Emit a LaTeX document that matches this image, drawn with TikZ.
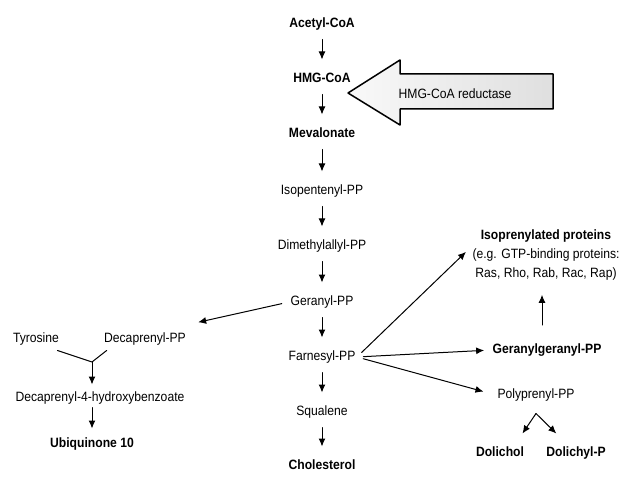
\documentclass[tikz,border=0pt]{standalone}
\usepackage{fontspec}
\setmainfont[FakeStretch=0.9]{Liberation Sans}
\usetikzlibrary{arrows.meta}
\begin{document}
\begin{tikzpicture}[line cap=round, line join=round, x=1bp, y=-1bp, line width=1bp, font=\fontsize{13.5bp}{19bp}\selectfont, >={Latex[length=8bp,width=7bp]}]
	\tikzset{met/.style={inner sep=1bp, text height=10bp, text depth=3bp},
		key met/.style={met, font=\fontsize{13.5bp}{19bp}\selectfont\bfseries},
		flow/.style={->, shorten <=7.5bp, shorten >=11.5bp},
		branch/.style={->, shorten <=6.5bp, shorten >=7bp}}
	\useasboundingbox (0,0) rectangle (623,477);
	% main pathway
	\node[key met] (acetyl) at (322,24) {Acetyl-CoA};
	\node[key met] (hmg) at (322,79) {HMG-CoA};
	\node[key met] (mev) at (322,134) {Mevalonate};
	\node[met] (ipp) at (322,191) {Isopentenyl-PP};
	\node[met] (dmapp) at (322,246) {Dimethylallyl-PP};
	\node[met] (gpp) at (322,302) {Geranyl-PP};
	\node[met] (fpp) at (322,357) {Farnesyl-PP};
	\node[met] (squal) at (322,412) {Squalene};
	\node[key met] (chol) at (322,466) {Cholesterol};
	\foreach \a/\b in {acetyl/hmg, hmg/mev, mev/ipp, ipp/dmapp, dmapp/gpp, gpp/fpp, fpp/squal, squal/chol}
		\draw[flow] (\a) -- (\b);
	% enzyme
	\draw[line width=1.5bp, left color=gray!5, right color=gray!25] (348,93) -- (400,60) -- (400,74) -- (553,74) -- (553,109) -- (400,109) -- (400,125) -- cycle;
	\node (red) at (455,94) {HMG-CoA reductase};
	% ubiquinone branch
	\node[met] (tyr) at (36,339) {Tyrosine};
	\node[met] (decap) at (145,339) {Decaprenyl-PP};
	\coordinate (join) at (92,362);
	\node[met] (dhb) at (100,398) {Decaprenyl-4-hydroxybenzoate};
	\node[key met] (ubq) at (92,444) {Ubiquinone 10};
	\draw[->, shorten <=7.5bp, shorten >=8bp] (gpp.west) -- ([shift={(3bp,7bp)}]decap.north east);
	\draw ([shift={(-3bp,-3.5bp)}]tyr.south east) -- (join) -- ([shift={(4bp,-3.5bp)}]decap.south west);
	\draw[->, shorten >=5.5bp] (join) -- (join |- dhb.north);
	\draw[->, shorten <=1.5bp, shorten >=7.5bp] (ubq.north |- dhb.south) -- (ubq.north);
	% prenylation branch
	\node[inner sep=1bp, align=center] (iso) at (546,255) {\textbf{Isoprenylated proteins}\\(e.g. GTP-binding proteins:\\Ras, Rho, Rab, Rac, Rap)};
	\node[key met] (gg) at (547,350) {Geranylgeranyl-PP};
	\node[met] (poly) at (536,395) {Polyprenyl-PP};
	\coordinate (fork) at ([yshift=-10.5bp]poly.south);
	\node[key met] (dol) at (500,453) {Dolichol};
	\node[key met] (dolp) at (576,453) {Dolichyl-P};
	\draw[branch] (fpp.east) -- ([yshift=8bp]iso.west);
	\draw[branch] (fpp.east) -- (gg.west);
	\draw[branch, shorten >=13bp] (fpp.east) -- (poly.west);
	\draw[->, shorten <=17bp, shorten >=13bp] ([xshift=-5bp]gg.north) -- ([xshift=-4bp]iso.south);
	\draw[->] (fork) -- ([shift={(-3bp,11.5bp)}]dol.north east);
	\draw[->] (fork) -- ([shift={(11.5bp,11.5bp)}]dolp.north west);
\end{tikzpicture}
\end{document}
